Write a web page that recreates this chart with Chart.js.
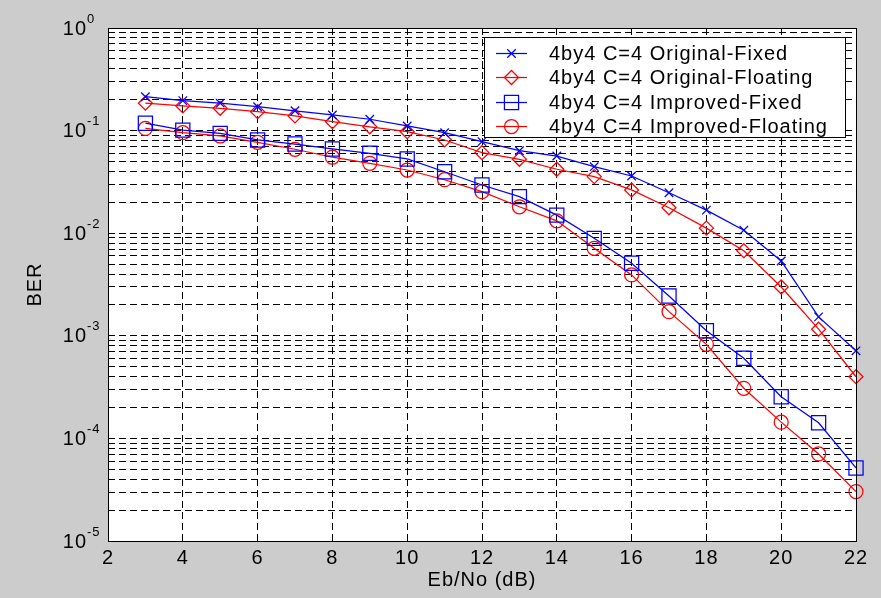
<!DOCTYPE html>
<html>
<head>
<meta charset="utf-8">
<script src="https://cdn.jsdelivr.net/npm/chart.js@4.4.1/dist/chart.umd.min.js"></script>
<style>
  html, body { margin: 0; padding: 0; background: #cccccc; }
  canvas { display: block; }
</style>
</head>
<body>
<canvas id="berChart" width="881" height="598"></canvas>
<script>
// Eb/No values (dB) shared by all four curves
const ebNo = [3, 4, 5, 6, 7, 8, 9, 10, 11, 12, 13, 14, 15, 16, 17, 18, 19, 20, 21, 22];

// BER
const originalFixed = [0.214, 0.196, 0.185, 0.171, 0.156, 0.142, 0.129, 0.111, 0.0954, 0.078,
  0.0637, 0.0565, 0.0445, 0.0361, 0.0248, 0.0168, 0.0107, 0.00536, 0.00153, 0.000714];
const originalFloating = [0.185, 0.174, 0.165, 0.153, 0.139, 0.122, 0.109, 0.0975, 0.081, 0.061,
  0.0525, 0.042, 0.0356, 0.0264, 0.0177, 0.0112, 0.00675, 0.00299, 0.00116, 0.000399];
const improvedFixed = [0.118, 0.101, 0.094, 0.081, 0.074, 0.0662, 0.0601, 0.0529, 0.0397, 0.0295,
  0.0227, 0.015, 0.00891, 0.00509, 0.00244, 0.00112, 0.000604, 0.000255, 0.000142, 0.0000515];
const improvedFloating = [0.105, 0.0954, 0.0886, 0.0769, 0.0658, 0.055, 0.048, 0.0413, 0.0332, 0.0254,
  0.0181, 0.0132, 0.00713, 0.00392, 0.00172, 0.000826, 0.000308, 0.000144, 0.0000705, 0.0000303];

const seriesLabels = [
  '4by4 C=4 Original-Fixed',
  '4by4 C=4 Original-Floating',
  '4by4 C=4 Improved-Fixed',
  '4by4 C=4 Improved-Floating'
];

// axis ticks
const xTickStep = 2;
const yDecades = [-5, -4, -3, -2, -1, 0];

const FONT = 'Liberation Sans, Arial, sans-serif';

// every 1..9 x 10^n line of the log grid
const yGridValues = [];
yDecades.forEach(e => {
  if (e === 0) { yGridValues.push(1); return; }
  for (let m = 1; m <= 9; m++) yGridValues.push(parseFloat((m * Math.pow(10, e)).toPrecision(3)));
});

function toPoints(arr) {
  return ebNo.map((x, i) => ({ x: x, y: arr[i] }));
}

// gray figure, white axes, black box, letter spacing like the old screenshot
const axesPlugin = {
  id: 'axesBox',
  beforeDraw(chart) {
    const { ctx, chartArea: a } = chart;
    ctx.letterSpacing = '1px';
    ctx.save();
    ctx.fillStyle = '#ffffff';
    ctx.fillRect(a.left, a.top, a.right - a.left, a.bottom - a.top);
    ctx.restore();
  },
  afterDraw(chart) {
    const { ctx, chartArea: a } = chart;
    ctx.save();
    ctx.strokeStyle = '#000';
    ctx.lineWidth = 1;
    ctx.setLineDash([]);
    ctx.strokeRect(Math.round(a.left) + 0.5, Math.round(a.top) + 0.5,
      Math.round(a.right - a.left), Math.round(a.bottom - a.top));

    // 10^n labels on the y axis
    const ys = chart.scales.y;
    ctx.fillStyle = '#000';
    ctx.letterSpacing = '1px';
    yDecades.forEach(e => {
      const y = ys.getPixelForValue(Math.pow(10, e));
      ctx.font = '20px ' + FONT;
      ctx.textAlign = 'right';
      ctx.textBaseline = 'middle';
      ctx.fillText('10', 87, y + 1);
      ctx.font = '13px ' + FONT;
      ctx.textAlign = 'left';
      ctx.fillText(String(e), 87, y - 9);
    });
    ctx.restore();
  }
};

// legend drawn as a MATLAB-style box inside the axes
const legendPlugin = {
  id: 'boxLegend',
  afterDatasetsDraw(chart) {
    const ctx = chart.ctx;
    const left = 484, top = 37, right = 845, bottom = 137;
    ctx.save();
    ctx.setLineDash([]);
    ctx.fillStyle = '#ffffff';
    ctx.fillRect(left, top, right - left, bottom - top);
    ctx.strokeStyle = '#000';
    ctx.lineWidth = 1;
    ctx.strokeRect(left + 0.5, top + 0.5, right - left, bottom - top);
    chart.data.datasets.forEach((ds, i) => {
      const y = Math.round(top + 16 + i * 24.3) + 0.5;
      ctx.strokeStyle = ds.borderColor;
      ctx.lineWidth = ds.borderWidth;
      ctx.beginPath();
      ctx.moveTo(496, y);
      ctx.lineTo(527, y);
      ctx.stroke();
      ctx.fillStyle = 'rgba(0,0,0,0)';
      Chart.helpers.drawPoint(ctx, {
        pointStyle: ds.pointStyle, radius: ds.pointRadius, borderWidth: ds.pointBorderWidth, rotation: 0
      }, 511.5, y);
      ctx.fillStyle = '#000';
      ctx.font = '20px ' + FONT;
      ctx.letterSpacing = '1px';
      ctx.textAlign = 'left';
      ctx.textBaseline = 'middle';
      ctx.fillText(ds.label, 549, y + 1);
    });
    ctx.restore();
  }
};

function series(label, data, color, style, radius) {
  return {
    label: label,
    data: toPoints(data),
    borderColor: color,
    backgroundColor: color,
    borderWidth: 1.25,
    pointStyle: style,
    pointRadius: radius,
    pointHoverRadius: radius,
    pointBorderColor: color,
    pointBackgroundColor: 'rgba(0,0,0,0)',
    pointBorderWidth: 1.25,
    tension: 0,
    fill: false,
    clip: false
  };
}

const ctx = document.getElementById('berChart').getContext('2d');
const berChart = new Chart(ctx, {
  type: 'line',
  data: {
    datasets: [
      series(seriesLabels[0], originalFixed, '#0000ff', 'crossRot', 6),
      series(seriesLabels[1], originalFloating, '#ff0000', 'rectRot', 7),
      series(seriesLabels[2], improvedFixed, '#0000ff', 'rect', 10),
      series(seriesLabels[3], improvedFloating, '#ff0000', 'circle', 7)
    ]
  },
  options: {
    responsive: false,
    animation: false,
    devicePixelRatio: 1,
    layout: { padding: { top: 28, right: 25, left: 0, bottom: 0 } },
    plugins: {
      legend: { display: false },
      tooltip: { enabled: false }
    },
    scales: {
      x: {
        type: 'linear',
        min: 2,
        max: 22,
        ticks: {
          stepSize: xTickStep,
          color: '#000',
          padding: 5,
          font: { family: FONT, size: 20 }
        },
        grid: { color: '#000', lineWidth: 1, drawTicks: false },
        border: { display: false, dash: [7, 4] },
        title: {
          display: true,
          text: 'Eb/No (dB)',
          color: '#000',
          font: { family: FONT, size: 20 },
          padding: { top: 0, bottom: 6 }
        },
        afterFit(scale) { scale.height = 57; }
      },
      y: {
        type: 'logarithmic',
        min: 1e-5,
        max: 1,
        afterBuildTicks(scale) {
          scale.ticks = yGridValues.map(v => ({ value: v }));
        },
        ticks: { display: false },
        grid: { color: '#000', lineWidth: 1, drawTicks: false },
        border: { display: false, dash: [7, 4] },
        title: {
          display: true,
          text: 'BER',
          color: '#000',
          font: { family: FONT, size: 20 },
          padding: { top: 23, bottom: 0 }
        },
        afterFit(scale) { scale.width = 108; }
      }
    }
  },
  plugins: [axesPlugin, legendPlugin]
});
</script>
</body>
</html>
